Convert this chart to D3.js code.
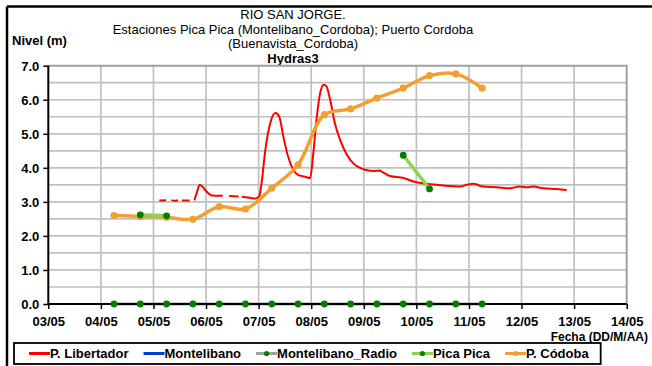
<!DOCTYPE html>
<html>
<head>
<meta charset="utf-8">
<script src="https://cdn.jsdelivr.net/npm/d3@7"></script>
<style>
  body { margin: 0; background: #fff; }
  svg { display: block; }
  text { font-family: "Liberation Sans", Arial, sans-serif; fill: #000; }
</style>
</head>
<body>
<svg id="chart" width="652" height="366"></svg>
<script>
// Axis ticks (day of May) and their labels
const dayTicks = [3, 4, 5, 6, 7, 8, 9, 10, 11, 12, 13, 14];
const dayLabels = ["03/05", "04/05", "05/05", "06/05", "07/05", "08/05", "09/05", "10/05", "11/05", "12/05", "13/05", "14/05"];
const levelTicks = [0, 1, 2, 3, 4, 5, 6, 7];
const levelGrid = [0.5, 1, 1.5, 2, 2.5, 3, 3.5, 4, 4.5, 5, 5.5, 6, 6.5];

// Twice-daily readings (07:00 / 19:00 approx.)
const sampleDays = [4.25, 4.75, 5.25, 5.75, 6.25, 6.75, 7.25, 7.75, 8.25, 8.75, 9.25, 9.75, 10.25, 10.75, 11.25];
const cordobaLevel = [2.60, 2.57, 2.55, 2.49, 2.86, 2.79, 3.40, 4.09, 5.56, 5.73, 6.05, 6.34, 6.71, 6.76, 6.34];
const picaLevel = [null, 2.62, 2.59, null, null, null, null, null, null, null, null, 4.37, 3.38, null, null];
const radioLevel = [0, 0, 0, 0, 0, 0, 0, 0, 0, 0, 0, 0, 0, 0, 0];

// Automatic station P. Libertador (null = missing data)
const libertadorDay = [
  5.11, 5.24, 5.29,
  5.34, 5.40, 5.47, 5.50,
  5.54, 5.69, 5.73,
  5.78, 5.83, 5.88, 5.93, 6.00, 6.06, 6.11, 6.32, 6.38,
  6.44, 6.62, 6.65,
  6.68, 6.80, 6.94, 7.01, 7.06, 7.12, 7.22, 7.32, 7.39, 7.47, 7.56, 7.66, 7.75, 7.88, 7.98,
  8.04, 8.10, 8.17, 8.24, 8.29, 8.36, 8.45, 8.55, 8.68, 8.83, 8.99, 9.18, 9.31, 9.34, 9.50,
  9.76, 9.94, 10.20, 10.51, 10.83, 10.96, 11.08, 11.27, 11.53, 11.78, 11.97, 12.10, 12.22,
  12.41, 12.67, 12.86
];
const libertadorLevel = [
  3.04, 3.05, null,
  3.05, 3.03, 3.05, null,
  3.04, 3.04, null,
  3.05, 3.30, 3.50, 3.45, 3.32, 3.23, 3.19, 3.18, null,
  3.17, 3.16, null,
  3.15, 3.13, 3.10, 3.16, 3.60, 4.43, 5.31, 5.61, 5.51, 4.92, 4.33, 3.94, 3.79, 3.74, 3.70,
  4.43, 5.41, 6.20, 6.44, 6.39, 6.00, 5.31, 4.82, 4.38, 4.09, 3.96, 3.91, 3.92, 3.89, 3.76,
  3.70, 3.60, 3.53, 3.48, 3.45, 3.50, 3.53, 3.45, 3.43, 3.40, 3.45, 3.43, 3.45,
  3.40, 3.38, 3.35
];

const seriesNames = ["P. Libertador", "Montelibano", "Montelibano_Radio", "Pica Pica", "P. Códoba"];

const svg = d3.select("#chart");
const W = 652, H = 366;
const plot = { left: 48.3, right: 626.7, top: 65.7, bottom: 304 };

const x = d3.scaleLinear().domain([3, 14]).range([plot.left, plot.right]);
const y = d3.scaleLinear().domain([0, 7]).range([plot.bottom, plot.top]);

// Outer frame (top and left edges)
svg.append("line").attr("x1", 7).attr("x2", W).attr("y1", 6.5).attr("y2", 6.5)
  .attr("stroke", "#000").attr("stroke-width", 2.5);
svg.append("line").attr("x1", 7).attr("x2", 7).attr("y1", 6.5).attr("y2", H)
  .attr("stroke", "#000").attr("stroke-width", 2.5);

// Titles
const titleX = 293;
const titleLines = [
  { text: "RIO SAN JORGE.", y: 19, bold: false },
  { text: "Estaciones Pica Pica (Montelibano_Cordoba); Puerto Cordoba", y: 33.5, bold: false },
  { text: "(Buenavista_Cordoba)", y: 48, bold: false },
  { text: "Hydras3", y: 62.5, bold: true }
];
titleLines.forEach(t => {
  svg.append("text").attr("x", titleX).attr("y", t.y).attr("text-anchor", "middle")
    .style("font-size", "13px").style("font-weight", t.bold ? "bold" : "normal")
    .text(t.text);
});
svg.append("text").attr("x", 12).attr("y", 45)
  .style("font-size", "13px").style("font-weight", "bold").text("Nivel (m)");

// Gridlines
const grid = svg.append("g").attr("stroke", "#c0c0c0").attr("stroke-width", 1.7);
grid.selectAll("line.h").data(levelGrid).join("line").attr("class", "h")
  .attr("x1", plot.left).attr("x2", plot.right)
  .attr("y1", d => y(d)).attr("y2", d => y(d));
grid.selectAll("line.v").data(dayTicks.slice(1, -1)).join("line").attr("class", "v")
  .attr("x1", d => x(d)).attr("x2", d => x(d))
  .attr("y1", plot.top).attr("y2", plot.bottom);
// Plot frame top / right
svg.append("path")
  .attr("d", `M${plot.left},${y(7)}H${plot.right}V${plot.bottom}`)
  .attr("fill", "none").attr("stroke", "#a0a0a0").attr("stroke-width", 2);

// Montelibano_Radio baseline (under the axis)
const lineGen = d3.line()
  .defined(d => d[1] !== null)
  .x(d => x(d[0])).y(d => y(d[1]));
const radioPts = sampleDays.map((d, i) => [d, radioLevel[i]]);
svg.append("path").datum(radioPts).attr("d", lineGen)
  .attr("fill", "none").attr("stroke", "#a0a0a0").attr("stroke-width", 3);

// Axes
const yAxis = d3.axisLeft(y).tickValues(levelTicks).tickSize(5)
  .tickFormat(d3.format(".1f"));
const gy = svg.append("g").attr("transform", `translate(${plot.left},0)`).call(yAxis);
const xAxis = d3.axisBottom(x).tickValues(dayTicks).tickSize(5)
  .tickFormat((d, i) => dayLabels[i]);
const gx = svg.append("g").attr("transform", `translate(0,${plot.bottom})`).call(xAxis);
[gx, gy].forEach(g => {
  g.select(".domain").attr("stroke", "#000").attr("stroke-width", 2);
  g.selectAll(".tick line").attr("stroke", "#000").attr("stroke-width", 1.5);
  g.selectAll(".tick text").style("font-size", "13px").style("font-weight", "bold")
    .style("font-family", '"Liberation Sans", Arial, sans-serif').attr("fill", "#000");
});
gy.select(".domain").attr("d", `M0,${y(0)}V${y(7)}`);
gx.select(".domain").attr("d", `M${plot.left},0H${plot.right}`);
gy.selectAll(".tick text").attr("x", -9).attr("dy", "0.36em");
gx.selectAll(".tick text").attr("y", 10).attr("dy", "0.9em");

svg.append("text").attr("x", 648).attr("y", 341).attr("text-anchor", "end")
  .style("font-size", "12px").style("font-weight", "bold").text("Fecha (DD/M/AA)");

// P. Libertador
const libPts = libertadorDay.map((d, i) => [d, libertadorLevel[i]]);
svg.append("path").datum(libPts)
  .attr("d", lineGen.curve(d3.curveMonotoneX))
  .attr("fill", "none").attr("stroke", "#ff0000").attr("stroke-width", 2)
  .attr("stroke-linejoin", "round");

// P. Códoba
const smooth = d3.line()
  .defined(d => d[1] !== null)
  .x(d => x(d[0])).y(d => y(d[1]))
  .curve(d3.curveCatmullRom.alpha(0.5));
const cordPts = sampleDays.map((d, i) => [d, cordobaLevel[i]]);
svg.append("path").datum(cordPts).attr("d", smooth)
  .attr("fill", "none").attr("stroke", "#f0a030").attr("stroke-width", 3.5)
  .attr("stroke-linecap", "round");
svg.append("g").selectAll("circle").data(cordPts).join("circle")
  .attr("cx", d => x(d[0])).attr("cy", d => y(d[1])).attr("r", 3.6)
  .attr("fill", "#f0a030");

// Pica Pica
const picaPts = sampleDays.map((d, i) => [d, picaLevel[i]]);
svg.append("path").datum(picaPts)
  .attr("d", d3.line().defined(d => d[1] !== null).x(d => x(d[0])).y(d => y(d[1])))
  .attr("fill", "none").attr("stroke", "#92d050").attr("stroke-width", 3.5);
svg.append("g").selectAll("circle").data(picaPts.filter(d => d[1] !== null)).join("circle")
  .attr("cx", d => x(d[0])).attr("cy", d => y(d[1])).attr("r", 3.4)
  .attr("fill", "#008000");

// Montelibano_Radio markers
svg.append("g").selectAll("circle").data(radioPts).join("circle")
  .attr("cx", d => x(d[0])).attr("cy", d => y(d[1])).attr("r", 3.4)
  .attr("fill", "#008000");

// Legend
const legendItems = [
  { name: seriesNames[0], color: "#ff0000", marker: null },
  { name: seriesNames[1], color: "#0040d0", marker: null },
  { name: seriesNames[2], color: "#a0a0a0", marker: "#008000" },
  { name: seriesNames[3], color: "#92d050", marker: "#008000" },
  { name: seriesNames[4], color: "#f0a030", marker: "#f0a030" }
];
const legend = svg.append("g");
const legY = 353.5;
let lx = 29;
legendItems.forEach(item => {
  legend.append("line").attr("x1", lx).attr("x2", lx + 21)
    .attr("y1", legY).attr("y2", legY)
    .attr("stroke", item.color).attr("stroke-width", 3);
  if (item.marker) {
    legend.append("circle").attr("cx", lx + 10.5).attr("cy", legY).attr("r", 2.6)
      .attr("fill", item.marker);
  }
  const t = legend.append("text").attr("x", lx + 21).attr("y", legY).attr("dy", "0.36em")
    .style("font-size", "13px").style("font-weight", "bold").text(item.name);
  lx += 21 + t.node().getComputedTextLength() + 15;
});
legend.insert("rect", ":first-child")
  .attr("x", 14).attr("y", 343).attr("width", lx - 14 - 15 + 12).attr("height", 21)
  .attr("fill", "#fff").attr("stroke", "#000").attr("stroke-width", 1.8);
</script>
</body>
</html>
